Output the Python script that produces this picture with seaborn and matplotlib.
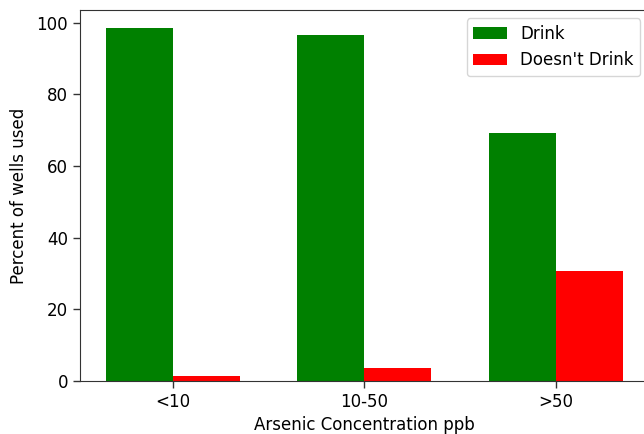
import matplotlib
matplotlib.use("Agg")
import matplotlib.pyplot as plt
import seaborn as sns
import pandas as pd

categories = ["<10", "10-50", ">50"]
drink = [98.6, 96.4, 69.2]
doesnt_drink = [1.4, 3.6, 30.8]
series_names = ["Drink", "Doesn't Drink"]

df = pd.DataFrame({
    "cat": categories * 2,
    "val": drink + doesnt_drink,
    "series": [series_names[0]] * 3 + [series_names[1]] * 3,
})

sns.set_style("ticks")
plt.rcParams["font.family"] = ["DejaVu Sans"]
plt.rcParams["text.color"] = "black"
plt.rcParams["axes.labelcolor"] = "black"
plt.rcParams["xtick.color"] = "#333333"
plt.rcParams["ytick.color"] = "#333333"
plt.rcParams["xtick.labelcolor"] = "black"
plt.rcParams["ytick.labelcolor"] = "black"
fig = plt.figure(figsize=(6.44, 4.34), dpi=100)
ax = fig.add_axes([80 / 644, 1 - 381 / 434, (648.6 - 80) / 644, (381 - 10) / 434])
sns.barplot(data=df, x="cat", y="val", hue="series", order=categories,
            hue_order=series_names, palette=["green", "red"], width=0.7,
            saturation=1, ax=ax, edgecolor="none", linewidth=0)
ax.set_xlim(-0.485, 2.485)
ax.set_ylim(0, 103.5)
fs = 12
ax.set_xlabel("Arsenic Concentration ppb", fontsize=fs, labelpad=4)
ax.set_ylabel("Percent of wells used", fontsize=fs, labelpad=6)
ax.tick_params(labelsize=fs, length=5, width=1)
for s in ax.spines.values():
    s.set_visible(True)
    s.set_color("#333333")
ax.legend(loc="upper right", fontsize=fs, title=None, fancybox=True,
          edgecolor="#cccccc", framealpha=0.8)
fig.savefig("out.png", dpi=100)
